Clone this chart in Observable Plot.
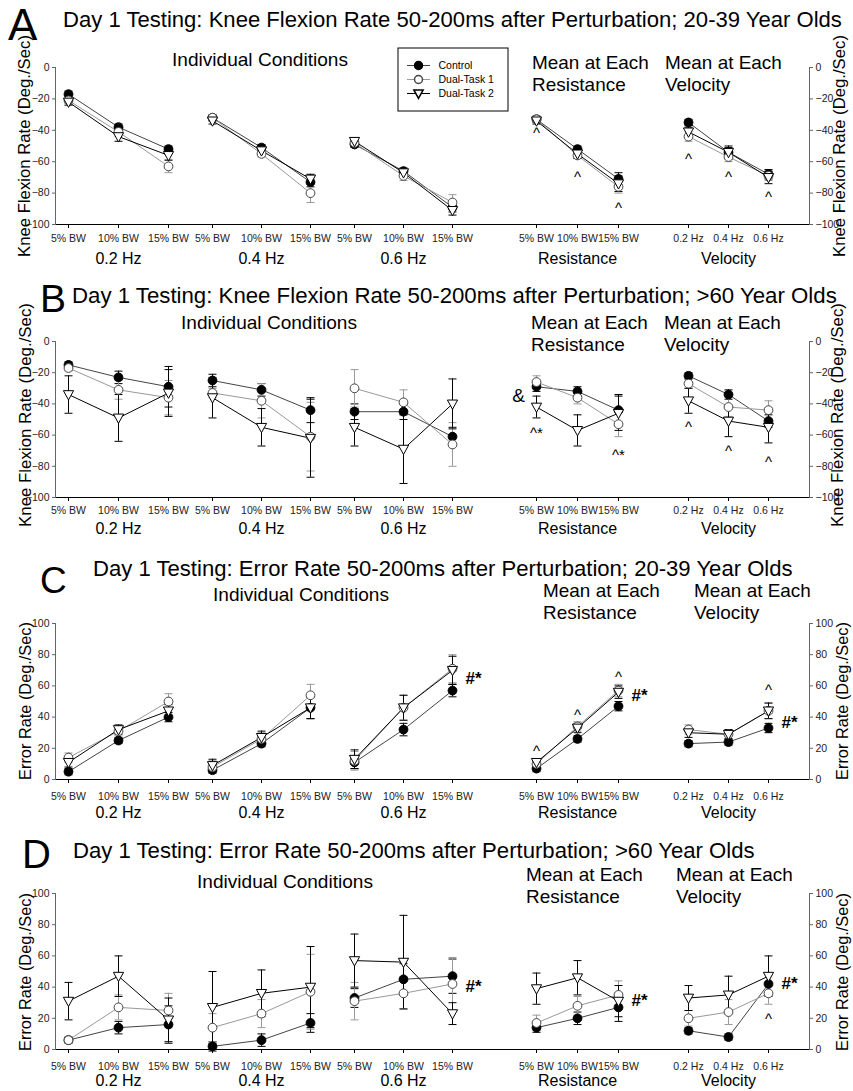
<!DOCTYPE html>
<html><head><meta charset="utf-8">
<script src="https://cdn.jsdelivr.net/npm/d3@7"></script>
<script src="https://cdn.jsdelivr.net/npm/@observablehq/plot@0.6"></script>
<style>
body{margin:0;background:#fff;font-family:"Liberation Sans",Arial,sans-serif;}
#root{position:relative;width:853px;height:1091px;overflow:hidden;background:#fff;}
.abs{position:absolute;white-space:pre;line-height:1;color:#000;}
#root svg{position:absolute;overflow:visible;}
</style></head><body><div id="root"></div><script>
// ---------------- DATA ----------------
const series = ["Control", "Dual-Task 1", "Dual-Task 2"];
const resistanceLevels = ["5% BW", "10% BW", "15% BW"];
const velocityLevels = ["0.2 Hz", "0.4 Hz", "0.6 Hz"];
const groupNames = ["0.2 Hz", "0.4 Hz", "0.6 Hz", "Resistance", "Velocity"];
const groupLevels = [resistanceLevels, resistanceLevels, resistanceLevels, resistanceLevels, velocityLevels];

const panelLetters = ["A", "B", "C", "D"];
const panelTitles = [
  "Day 1 Testing: Knee Flexion Rate 50-200ms after Perturbation; 20-39 Year Olds",
  "Day 1 Testing: Knee Flexion Rate 50-200ms after Perturbation; >60 Year Olds",
  "Day 1 Testing: Error Rate 50-200ms after Perturbation; 20-39 Year Olds",
  "Day 1 Testing: Error Rate 50-200ms after Perturbation; >60 Year Olds"
];
const sectionTitles = ["Individual Conditions", "Mean at Each", "Resistance", "Velocity"];
const yTitles = ["Knee Flexion Rate (Deg./Sec)", "Knee Flexion Rate (Deg./Sec)", "Error Rate (Deg./Sec)", "Error Rate (Deg./Sec)"];
const kneeTicks = [-100, -80, -60, -40, -20, 0];
const errorTicks = [0, 20, 40, 60, 80, 100];
const yTickValues = [kneeTicks, kneeTicks, errorTicks, errorTicks];

// 15 values per series: 0.2 Hz (5,10,15% BW), 0.4 Hz (..), 0.6 Hz (..), mean per resistance, mean per velocity
const aControl    = [-17, -38, -52,  -32, -51, -73,  -49, -66, -89,  -33, -52, -71,  -35, -54, -68];
const aControlErr = [  2,   2,   2,    2,   2,   3,    2,   2,   3,    2,   2,   4,    2,   3,   3];
const aDual1      = [-21, -41, -63,  -32, -55, -80,  -48, -69, -86,  -33, -56, -76,  -44, -57, -69];
const aDual1Err   = [  2,   3,   4,    2,   2,   6,    2,   3,   5,    2,   2,   4,    3,   3,   3];
const aDual2      = [-22, -44, -56,  -34, -53, -71,  -47, -67, -91,  -34, -55, -74,  -41, -54, -70];
const aDual2Err   = [  2,   3,   3,    2,   2,   3,    2,   2,   3,    2,   3,   5,    3,   4,   4];

const bControl    = [-15, -23, -29,  -25, -31, -44,  -45, -45, -61,  -29, -32, -44,  -22, -34, -51];
const bControlErr = [  2,   4,  13,    4,   4,   8,    5,   5,   6,    3,   3,  10,    2,   3,   4];
const bDual1      = [-17, -31, -36,  -33, -38, -61,  -30, -39, -66,  -26, -36, -53,  -27, -42, -44];
const bDual1Err   = [  2,   6,  11,    3,  11,  22,   12,   8,  14,    4,   4,   8,    3,   6,   6];
const bDual2      = [-34, -49, -33,  -36, -55, -62,  -55, -69, -40,  -42, -57, -46,  -38, -51, -55];
const bDual2Err   = [ 12,  15,  15,   13,  12,  25,   12,  22,  16,    7,  10,  11,    8,  10,  10];

const cControl    = [  5,  25,  40,    6,  23,  46,   11,  32,  57,    7,  26,  47,   23,  24,  33];
const cControlErr = [  2,   2,   3,    2,   2,   7,    4,   4,   4,    2,   2,   3,    2,   2,   3];
const cDual1      = [ 14,  31,  50,    8,  26,  54,   12,  46,  71,   10,  34,  57,   32,  29,  44];
const cDual1Err   = [  3,   3,   5,    4,   4,   7,    6,   8,   9,    2,   3,   4,    3,   3,   5];
const cDual2      = [ 11,  32,  44,    9,  27,  46,   13,  46,  70,   11,  33,  56,   30,  29,  44];
const cDual2Err   = [  3,   3,   4,    4,   4,   7,    6,   8,   9,    2,   3,   4,    3,   3,   5];

const dControl    = [  6,  14,  16,    2,   6,  17,   33,  45,  47,   14,  20,  27,   12,   8,  42];
const dControlErr = [  2,   4,  12,    3,   4,   6,    6,  10,  11,    3,   4,   9,    2,   2,   6];
const dDual1      = [  6,  27,  25,   14,  23,  37,   31,  36,  42,   17,  28,  35,   20,  24,  36];
const dDual1Err   = [  2,   8,  11,    9,   9,  24,   12,  10,  17,    5,   6,   9,    5,   8,   7];
const dDual2      = [ 31,  47,  19,   27,  36,  40,   57,  56,  23,   39,  46,  31,   33,  35,  47];
const dDual2Err   = [ 12,  13,  14,   23,  15,  26,   17,  30,   7,   10,  11,  10,    8,  12,  13];

// significance markers (label placed at the given value)
const annotationsA = [
  {group: "Resistance", level: "5% BW", value: -39, text: "^"},
  {group: "Resistance", level: "10% BW", value: -67, text: "^"},
  {group: "Resistance", level: "15% BW", value: -87, text: "^"},
  {group: "Velocity", level: "0.2 Hz", value: -56, text: "^"},
  {group: "Velocity", level: "0.4 Hz", value: -67.5, text: "^"},
  {group: "Velocity", level: "0.6 Hz", value: -80, text: "^"}
];
const annotationsB = [
  {group: "Resistance", level: "5% BW", value: -35, text: "&"},
  {group: "Resistance", level: "5% BW", value: -56, text: "^*"},
  {group: "Resistance", level: "15% BW", value: -70, text: "^*"},
  {group: "Velocity", level: "0.2 Hz", value: -52.5, text: "^"},
  {group: "Velocity", level: "0.4 Hz", value: -68, text: "^"},
  {group: "Velocity", level: "0.6 Hz", value: -75, text: "^"}
];
const annotationsC = [
  {group: "0.6 Hz", level: "15% BW", value: 65, text: "#*"},
  {group: "Resistance", level: "5% BW", value: 20.5, text: "^"},
  {group: "Resistance", level: "10% BW", value: 44, text: "^"},
  {group: "Resistance", level: "15% BW", value: 68, text: "^"},
  {group: "Resistance", level: "15% BW", value: 54, text: "#*"},
  {group: "Velocity", level: "0.6 Hz", value: 60, text: "^"},
  {group: "Velocity", level: "0.6 Hz", value: 36.5, text: "#*"}
];
const annotationsD = [
  {group: "0.6 Hz", level: "15% BW", value: 40.5, text: "#*"},
  {group: "Resistance", level: "15% BW", value: 31.5, text: "#*"},
  {group: "Velocity", level: "0.6 Hz", value: 42.5, text: "#*"},
  {group: "Velocity", level: "0.6 Hz", value: 22, text: "^"}
];

// ---------------- TABLE ----------------
const panelMeans = [[aControl, aDual1, aDual2], [bControl, bDual1, bDual2], [cControl, cDual1, cDual2], [dControl, dDual1, dDual2]];
const panelErrors = [[aControlErr, aDual1Err, aDual2Err], [bControlErr, bDual1Err, bDual2Err], [cControlErr, cDual1Err, cDual2Err], [dControlErr, dDual1Err, dDual2Err]];
const panelAnnotations = [annotationsA, annotationsB, annotationsC, annotationsD];
const yDomains = [[-100, 0], [-100, 0], [0, 100], [0, 100]];

const table = [];
panelMeans.forEach((means, p) => means.forEach((vals, s) => vals.forEach((v, i) => {
  const g = Math.floor(i / 3);
  table.push({panel: p, series: series[s], group: groupNames[g], level: groupLevels[g][i % 3], mean: v, err: panelErrors[p][s][i]});
})));

// ---------------- STYLE / LAYOUT ----------------
const FONT = "'Liberation Sans', Arial, sans-serif";
const triangleDown = {
  draw(ctx, size) {
    const r = Math.sqrt(size / Math.PI) * 1.22;
    ctx.moveTo(0, r);
    ctx.lineTo(r * 0.95, -r * 0.72);
    ctx.lineTo(-r * 0.95, -r * 0.72);
    ctx.closePath();
  }
};
// horizontal error-bar cap drawn as a symbol
const capSymbol = {
  draw(ctx) {
    ctx.moveTo(-4, 0);
    ctx.lineTo(4, 0);
  }
};
const seriesStyle = {
  "Control": {symbol: "circle", fill: "#000", stroke: "#000", line: "#444", err: "#000"},
  "Dual-Task 1": {symbol: "circle", fill: "#fff", stroke: "#444", line: "#999", err: "#999"},
  "Dual-Task 2": {symbol: triangleDown, fill: "#fff", stroke: "#000", line: "#000", err: "#000"}
};
const subLayout = [
  {left: 0, width: 190, marginLeft: 55, marginRight: 0, range: [68, 168], axis: "left"},
  {left: 190, width: 142, marginLeft: 0, marginRight: 0, range: [211, 310]},
  {left: 332, width: 162, marginLeft: 0, marginRight: 0, range: [354, 452]},
  {left: 494, width: 164, marginLeft: 0, marginRight: 0, range: [536, 618]},
  {left: 658, width: 195, marginLeft: 0, marginRight: 44, range: [687, 768], axis: "right"}
];
const panelFrames = [[67, 224], [341, 497], [623, 779], [893, 1049]];
const xTickPad = [6, 5, 9, 9];
const groupLabelDy = [34, 31, 33, 31];
const annotStyle = {
  "^": {fontSize: 15, dx: 0, dy: 4, fontWeight: "normal"},
  "^*": {fontSize: 15, dx: 0, dy: 4, fontWeight: "normal"},
  "&": {fontSize: 19, dx: -18, dy: 0, fontWeight: "normal"},
  "#*": {fontSize: 17, dx: 21, dy: 0, fontWeight: "bold"}
};

const root = document.getElementById("root");

function place(el, left, top) {
  el.style.left = left + "px";
  el.style.top = top + "px";
  root.appendChild(el);
}

function subplot(p, g) {
  const L = subLayout[g];
  const [ft, fb] = panelFrames[p];
  const mt = 10, mb = 52;
  const h = (fb - ft) + mt + mb;
  const group = groupNames[g];
  const levels = groupLevels[g];
  const rows = table.filter(d => d.panel === p && d.group === group);
  const marks = [Plot.ruleY([yDomains[p][0]], {stroke: "#000"})];
  if (L.axis) {
    marks.push(Plot.frame({anchor: L.axis, stroke: "#666"}));
    marks.push(Plot.axisY({anchor: L.axis, ticks: yTickValues[p], tickSize: 3, tickPadding: 3, fontSize: 10.5, label: null, stroke: "#666", fill: "#222"}));
  }
  marks.push(Plot.axisX({tickSize: 4, tickPadding: xTickPad[p], fontSize: 10.5, label: null, fill: "#222"}));
  marks.push(Plot.text([group], {x: () => levels[1], text: d => d, frameAnchor: "bottom", dy: groupLabelDy[p], fontSize: 16, lineAnchor: "middle"}));
  for (const s of series) {
    const st = seriesStyle[s];
    const r = rows.filter(d => d.series === s);
    marks.push(Plot.line(r, {x: "level", y: "mean", stroke: st.line, strokeWidth: 1}));
  }
  for (const s of series) {
    const st = seriesStyle[s];
    const r = rows.filter(d => d.series === s);
    marks.push(Plot.ruleX(r, {x: "level", y1: d => d.mean - d.err, y2: d => d.mean + d.err, stroke: st.err, strokeWidth: 1}));
    marks.push(Plot.dot(r, {x: "level", y: d => d.mean + d.err, symbol: capSymbol, fill: "none", stroke: st.err, strokeWidth: 1}));
    marks.push(Plot.dot(r, {x: "level", y: d => d.mean - d.err, symbol: capSymbol, fill: "none", stroke: st.err, strokeWidth: 1}));
  }
  for (const s of series) {
    const st = seriesStyle[s];
    const r = rows.filter(d => d.series === s);
    marks.push(Plot.dot(r, {x: "level", y: "mean", r: 4.4, symbol: st.symbol, fill: st.fill, stroke: st.stroke, strokeWidth: 1}));
  }
  const ann = panelAnnotations[p].filter(a => a.group === group);
  for (const key of Object.keys(annotStyle)) {
    const a = ann.filter(d => d.text === key);
    if (a.length) marks.push(Plot.text(a, {x: "level", y: "value", text: "text", lineAnchor: "middle", fill: "#000", ...annotStyle[key]}));
  }
  const svg = Plot.plot({
    width: L.width, height: h,
    marginLeft: L.marginLeft, marginRight: L.marginRight, marginTop: mt, marginBottom: mb,
    style: `overflow:visible;background:transparent;font-family:${FONT};color:#000;`,
    x: {type: "point", domain: levels, range: [L.range[0] - L.left, L.range[1] - L.left], padding: 0},
    y: {domain: yDomains[p], range: [h - mb, mt], axis: null},
    marks
  });
  place(svg, L.left, ft - mt);
}

function label(str, {x, y, size, anchor = "start", fit = null, rotate = false, weight = "normal"}) {
  const el = document.createElement("div");
  el.className = "abs";
  el.textContent = str;
  el.style.fontSize = size + "px";
  el.style.fontWeight = weight;
  place(el, x, y);
  if (fit) {
    const w = el.getBoundingClientRect().width;
    size = size * fit / w;
    el.style.fontSize = size + "px";
  }
  if (rotate) el.style.transform = "translate(-50%,-50%) rotate(-90deg)";
  else if (anchor === "middle") el.style.transform = "translate(-50%,-50%)";
  else el.style.transform = "translateY(-50%)";
  return size;
}

// ---------------- PANEL TEXTS ----------------
const letterPos = [{x: 8, y: 25, size: 44}, {x: 40, y: 298, size: 39}, {x: 40, y: 580, size: 37}, {x: 22, y: 854, size: 40}];
const titlePos = [{x: 63, y: 20, w: 779}, {x: 72, y: 296, w: 765}, {x: 93, y: 569, w: 700}, {x: 73, y: 851, w: 682}];
const indivPos = [{x: 260, y: 60}, {x: 269, y: 323}, {x: 301, y: 595}, {x: 285, y: 882}];
const meanPos = [{r: 532, v: 665, y: 63}, {r: 531, v: 664, y: 323}, {r: 543, v: 694, y: 591}, {r: 526, v: 676, y: 875}];
const yTitlePos = [{l: 25, r: 840, y: 146, len: 222}, {l: 26, r: 838, y: 415, len: 224}, {l: 25, r: 842, y: 701, len: 158}, {l: 25, r: 842, y: 972, len: 158}];

for (let p = 0; p < 4; p++) {
  for (let g = 0; g < 5; g++) subplot(p, g);
  label(panelLetters[p], {x: letterPos[p].x, y: letterPos[p].y, size: letterPos[p].size});
  label(panelTitles[p], {x: titlePos[p].x, y: titlePos[p].y, size: 19, fit: titlePos[p].w});
  label(sectionTitles[0], {x: indivPos[p].x, y: indivPos[p].y, size: 18, anchor: "middle", fit: 176});
  const ms = label(sectionTitles[1], {x: meanPos[p].r, y: meanPos[p].y, size: 18, fit: 117});
  label(sectionTitles[2], {x: meanPos[p].r, y: meanPos[p].y + 22, size: ms});
  label(sectionTitles[1], {x: meanPos[p].v, y: meanPos[p].y, size: ms});
  label(sectionTitles[3], {x: meanPos[p].v, y: meanPos[p].y + 22, size: ms});
  label(yTitles[p], {x: yTitlePos[p].l, y: yTitlePos[p].y, size: 16, rotate: true, fit: yTitlePos[p].len});
  label(yTitles[p], {x: yTitlePos[p].r, y: yTitlePos[p].y, size: 16, rotate: true, fit: yTitlePos[p].len});
}

// ---------------- LEGEND (panel A) ----------------
const legend = Plot.plot({
  width: 111, height: 64, margin: 0,
  style: `overflow:visible;background:#fff;font-family:${FONT};color:#000;`,
  y: {type: "point", domain: series, range: [18, 46], padding: 0, axis: null},
  marks: [
    Plot.frame({stroke: "#000", inset: 0.5}),
    ...series.map(s => Plot.ruleY([s], {y: d => d, stroke: seriesStyle[s].line, insetLeft: 10, insetRight: 78})),
    ...series.map(s => Plot.dot([s], {y: d => d, frameAnchor: "left", dx: 21, r: 4, symbol: seriesStyle[s].symbol, fill: seriesStyle[s].fill, stroke: seriesStyle[s].stroke})),
    Plot.text(series, {y: d => d, text: d => d, frameAnchor: "left", dx: 41, textAnchor: "start", fontSize: 10.5, fill: "#000"})
  ]
});
place(legend, 397, 47);
</script></body></html>
